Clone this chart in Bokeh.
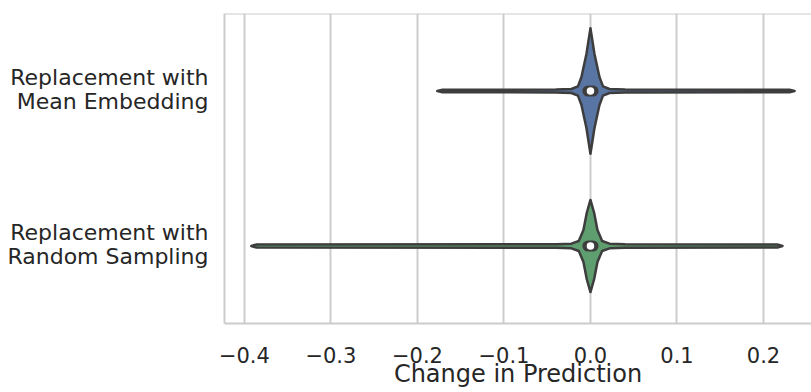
from bokeh.plotting import figure
from bokeh.models import Range1d, FixedTicker, Span
from bokeh.embed import file_html
from bokeh.resources import INLINE

# ---- data ----
categories = ["Replacement with\nMean Embedding", "Replacement with\nRandom Sampling"]
cat_pos = [0, 1]
fill_colors = ["#5975a4", "#5f9e6e"]

# violin profile: value positions and half-width (category units)
mean_x = [-0.177, -0.171, -0.040, -0.022, -0.0145, -0.0104, -0.0046, 0.0,
          0.0046, 0.0104, 0.0145, 0.022, 0.040, 0.230, 0.236]
mean_w = [0.0, 0.008, 0.009, 0.013, 0.030, 0.090, 0.240, 0.405,
          0.240, 0.090, 0.030, 0.013, 0.009, 0.008, 0.0]

rand_x = [-0.392, -0.386, -0.040, -0.022, -0.0135, -0.0081, -0.0043, 0.0,
          0.0043, 0.0081, 0.0135, 0.022, 0.040, 0.216, 0.222]
rand_w = [0.0, 0.010, 0.011, 0.015, 0.032, 0.103, 0.213, 0.297,
          0.213, 0.103, 0.032, 0.015, 0.011, 0.010, 0.0]

medians = [0.0, 0.0]
q1 = [-0.003, -0.003]
q3 = [0.003, 0.003]

x_ticks = [-0.4, -0.3, -0.2, -0.1, 0.0, 0.1, 0.2]
x_tick_labels = ["\u22120.4", "\u22120.3", "\u22120.2", "\u22120.1", "0.0", "0.1", "0.2"]
x_label = "Change in Prediction"

# ---- figure ----
FONT = "DejaVu Sans"
TXT = "#262626"
GRID = "#cccccc"
EDGE = "#3d3d3d"

p = figure(width=811, height=392, output_backend="svg", toolbar_location=None,
           x_range=Range1d(-0.423, 0.2555), y_range=Range1d(1.5, -0.5),
           min_border_left=224, min_border_right=0, min_border_top=13,
           min_border_bottom=69)
p.outline_line_color = None
p.background_fill_color = "white"
p.border_fill_color = "white"

# x axis
p.xaxis.ticker = FixedTicker(ticks=x_ticks)
p.xaxis.major_label_overrides = {t: l for t, l in zip(x_ticks, x_tick_labels)}
p.xaxis.axis_label = x_label
p.xaxis.axis_label_text_font = FONT
p.xaxis.axis_label_text_font_style = "normal"
p.xaxis.axis_label_text_font_size = "24px"
p.xaxis.axis_label_text_color = TXT
p.xaxis.axis_label_standoff = -6
p.xaxis.major_label_text_font = FONT
p.xaxis.major_label_text_font_size = "21px"
p.xaxis.major_label_text_color = TXT
p.xaxis.major_label_standoff = 23
p.xaxis.major_tick_line_color = None
p.xaxis.minor_tick_line_color = None
p.xaxis.major_tick_out = 0
p.xaxis.major_tick_in = 0
p.xaxis.axis_line_color = GRID
p.xaxis.axis_line_width = 2

# y axis: each category label is two right-aligned lines
y_ticks, y_labels = [], {}
for pos, cat in zip(cat_pos, categories):
    first, second = cat.split("\n")
    y_ticks += [pos - 0.085, pos + 0.069]
    y_labels[pos - 0.085] = first
    y_labels[pos + 0.069] = second
p.yaxis.ticker = FixedTicker(ticks=y_ticks)
p.yaxis.major_label_overrides = y_labels
p.yaxis.major_label_text_font = FONT
p.yaxis.major_label_text_font_size = "22px"
p.yaxis.major_label_text_color = TXT
p.yaxis.major_label_standoff = 16
p.yaxis.major_tick_line_color = None
p.yaxis.minor_tick_line_color = None
p.yaxis.major_tick_out = 0
p.yaxis.major_tick_in = 0
p.yaxis.axis_line_color = GRID
p.yaxis.axis_line_width = 2

p.xgrid.grid_line_color = GRID
p.xgrid.grid_line_width = 2
p.ygrid.grid_line_color = None

p.add_layout(Span(location=-0.5, dimension="width", line_color=GRID, line_width=2))

# violins
profiles = [(mean_x, mean_w), (rand_x, rand_w)]
for (vx, vw), pos, col in zip(profiles, cat_pos, fill_colors):
    xs = list(vx) + list(vx[::-1])
    ys = [pos - w for w in vw] + [pos + w for w in vw[::-1]]
    p.patch(xs, ys, fill_color=col, line_color=EDGE, line_width=2.5,
            line_join="round")

# inner box + median
p.segment(x0=q1, y0=cat_pos, x1=q3, y1=cat_pos, line_color=EDGE,
          line_width=11, line_cap="round")
p.scatter(x=medians, y=cat_pos, size=7.5, fill_color="white", line_color=None)

open("out.html", "w").write(file_html(p, INLINE))
